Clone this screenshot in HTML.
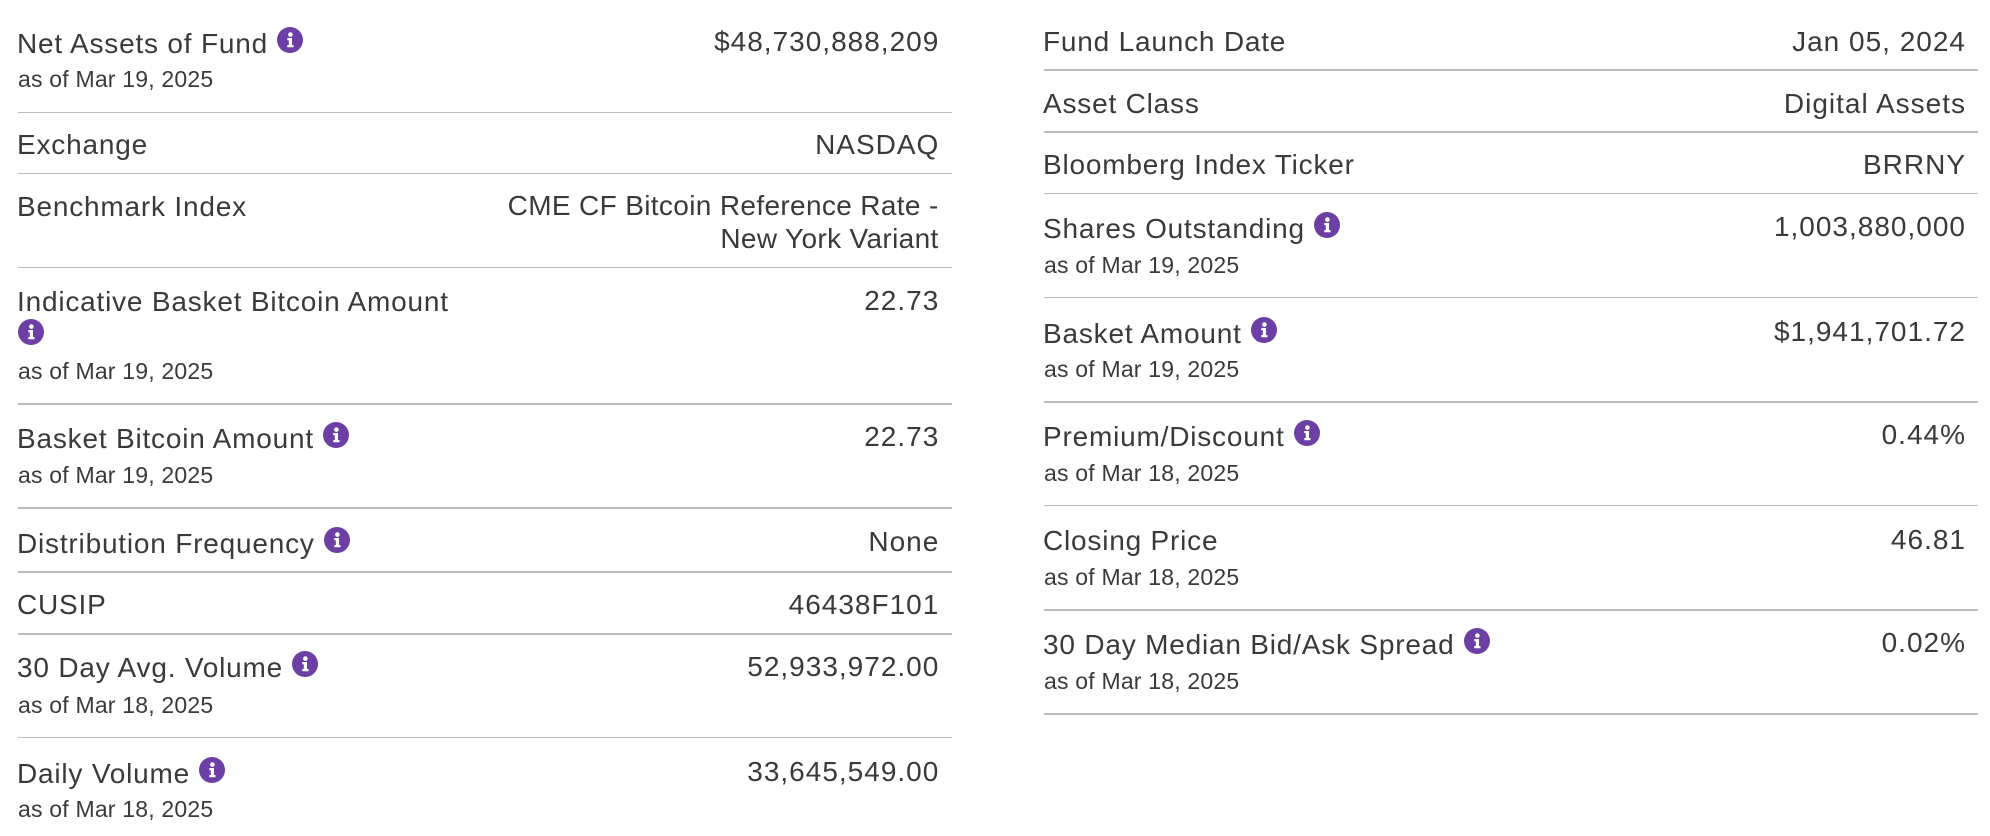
<!DOCTYPE html>
<html>
<head>
<meta charset="utf-8">
<style>
  html, body { margin:0; padding:0; background:#ffffff; }
  body { width:1990px; height:836px; position:relative; overflow:hidden;
         font-family:"Liberation Sans", Arial, sans-serif; color:#3a3a3a; }
  .l, .v { position:absolute; font-size:28px; line-height:36px; white-space:nowrap; }
  .l { letter-spacing:0.8px; }
  .v { text-align:right; letter-spacing:1px; }
  .s { position:absolute; font-size:23px; line-height:28px; white-space:nowrap; letter-spacing:0.2px; }
  .hr { position:absolute; height:1.4px; background:#bcbcbc; width:934px; }
  .ic { display:inline-block; width:26px; height:26px; vertical-align:baseline; margin-left:9px; }
  .ic2 { position:absolute; width:26px; height:26px; }
  .multi { position:absolute; font-size:28px; line-height:33px; letter-spacing:0.35px; text-align:right; white-space:nowrap; }
</style>
</head>
<body>
<svg width="0" height="0" style="position:absolute">
  <defs>
    <symbol id="info" viewBox="0 0 26 26">
      <circle cx="13" cy="13" r="13" fill="#6b3fa3"/>
      <circle cx="13.4" cy="7.6" r="2.3" fill="#ffffff"/>
      <path d="M10.3 11 H15 V18 H16.5 V20.3 H10.3 V18 H11.8 V13.3 H10.3 Z" fill="#ffffff"/>
    </symbol>
  </defs>
</svg>

<!-- LEFT COLUMN -->
<div class="l" style="left:17px; top:25.6px;">Net Assets of Fund<svg class="ic"><use href="#info"/></svg></div>
<div class="s" style="left:18px; top:65.3px;">as of Mar 19, 2025</div>
<div class="v" style="right:1050.7px; top:24px;">$48,730,888,209</div>
<div class="hr" style="left:18px; top:111.6px;"></div>

<div class="l" style="left:17px; top:127.3px;">Exchange</div>
<div class="v" style="right:1050.7px; top:127.3px;">NASDAQ</div>
<div class="hr" style="left:18px; top:173px;"></div>

<div class="l" style="left:17px; top:189px;">Benchmark Index</div>
<div class="multi" style="right:1051.35px; top:189.3px;">CME CF Bitcoin Reference Rate -<br>New York Variant</div>
<div class="hr" style="left:18px; top:266.8px;"></div>

<div class="l" style="left:17px; top:284px;">Indicative Basket Bitcoin Amount</div>
<svg class="ic2" style="left:18px; top:318.5px;"><use href="#info"/></svg>
<div class="s" style="left:18px; top:357px;">as of Mar 19, 2025</div>
<div class="v" style="right:1050.7px; top:283.3px;">22.73</div>
<div class="hr" style="left:18px; top:403.3px;"></div>

<div class="l" style="left:17px; top:420.6px;">Basket Bitcoin Amount<svg class="ic"><use href="#info"/></svg></div>
<div class="s" style="left:18px; top:460.7px;">as of Mar 19, 2025</div>
<div class="v" style="right:1050.7px; top:419px;">22.73</div>
<div class="hr" style="left:18px; top:507.3px;"></div>

<div class="l" style="left:17px; top:525.6px;">Distribution Frequency<svg class="ic"><use href="#info"/></svg></div>
<div class="v" style="right:1050.7px; top:523.8px;">None</div>
<div class="hr" style="left:18px; top:571.3px;"></div>

<div class="l" style="left:17px; top:587.3px;">CUSIP</div>
<div class="v" style="right:1050.7px; top:587.3px;">46438F101</div>
<div class="hr" style="left:18px; top:633.3px;"></div>

<div class="l" style="left:17px; top:650px;">30 Day Avg. Volume<svg class="ic"><use href="#info"/></svg></div>
<div class="s" style="left:18px; top:690.7px;">as of Mar 18, 2025</div>
<div class="v" style="right:1050.7px; top:648.8px;">52,933,972.00</div>
<div class="hr" style="left:18px; top:737px;"></div>

<div class="l" style="left:17px; top:755.6px;">Daily Volume<svg class="ic"><use href="#info"/></svg></div>
<div class="s" style="left:18px; top:794.7px;">as of Mar 18, 2025</div>
<div class="v" style="right:1050.7px; top:754.3px;">33,645,549.00</div>

<!-- RIGHT COLUMN -->
<div class="l" style="left:1043px; top:24px;">Fund Launch Date</div>
<div class="v" style="right:24px; top:24px;">Jan 05, 2024</div>
<div class="hr" style="left:1044px; top:69.3px;"></div>

<div class="l" style="left:1043px; top:85.6px;">Asset Class</div>
<div class="v" style="right:24px; top:85.6px;">Digital Assets</div>
<div class="hr" style="left:1044px; top:131.3px;"></div>

<div class="l" style="left:1043px; top:147.3px;">Bloomberg Index Ticker</div>
<div class="v" style="right:24px; top:147.3px;">BRRNY</div>
<div class="hr" style="left:1044px; top:193px;"></div>

<div class="l" style="left:1043px; top:210.6px;">Shares Outstanding<svg class="ic"><use href="#info"/></svg></div>
<div class="s" style="left:1044px; top:251.3px;">as of Mar 19, 2025</div>
<div class="v" style="right:24px; top:209px;">1,003,880,000</div>
<div class="hr" style="left:1044px; top:296.8px;"></div>

<div class="l" style="left:1043px; top:315.6px;">Basket Amount<svg class="ic"><use href="#info"/></svg></div>
<div class="s" style="left:1044px; top:355.3px;">as of Mar 19, 2025</div>
<div class="v" style="right:24px; top:314px;">$1,941,701.72</div>
<div class="hr" style="left:1044px; top:401.3px;"></div>

<div class="l" style="left:1043px; top:419px;">Premium/Discount<svg class="ic"><use href="#info"/></svg></div>
<div class="s" style="left:1044px; top:459px;">as of Mar 18, 2025</div>
<div class="v" style="right:24px; top:417.3px;">0.44%</div>
<div class="hr" style="left:1044px; top:505px;"></div>

<div class="l" style="left:1043px; top:523.3px;">Closing Price</div>
<div class="s" style="left:1044px; top:563px;">as of Mar 18, 2025</div>
<div class="v" style="right:24px; top:521.6px;">46.81</div>
<div class="hr" style="left:1044px; top:609.3px;"></div>

<div class="l" style="left:1043px; top:627.3px;">30 Day Median Bid/Ask Spread<svg class="ic"><use href="#info"/></svg></div>
<div class="s" style="left:1044px; top:667px;">as of Mar 18, 2025</div>
<div class="v" style="right:24px; top:625px;">0.02%</div>
<div class="hr" style="left:1044px; top:713.3px;"></div>

</body>
</html>
